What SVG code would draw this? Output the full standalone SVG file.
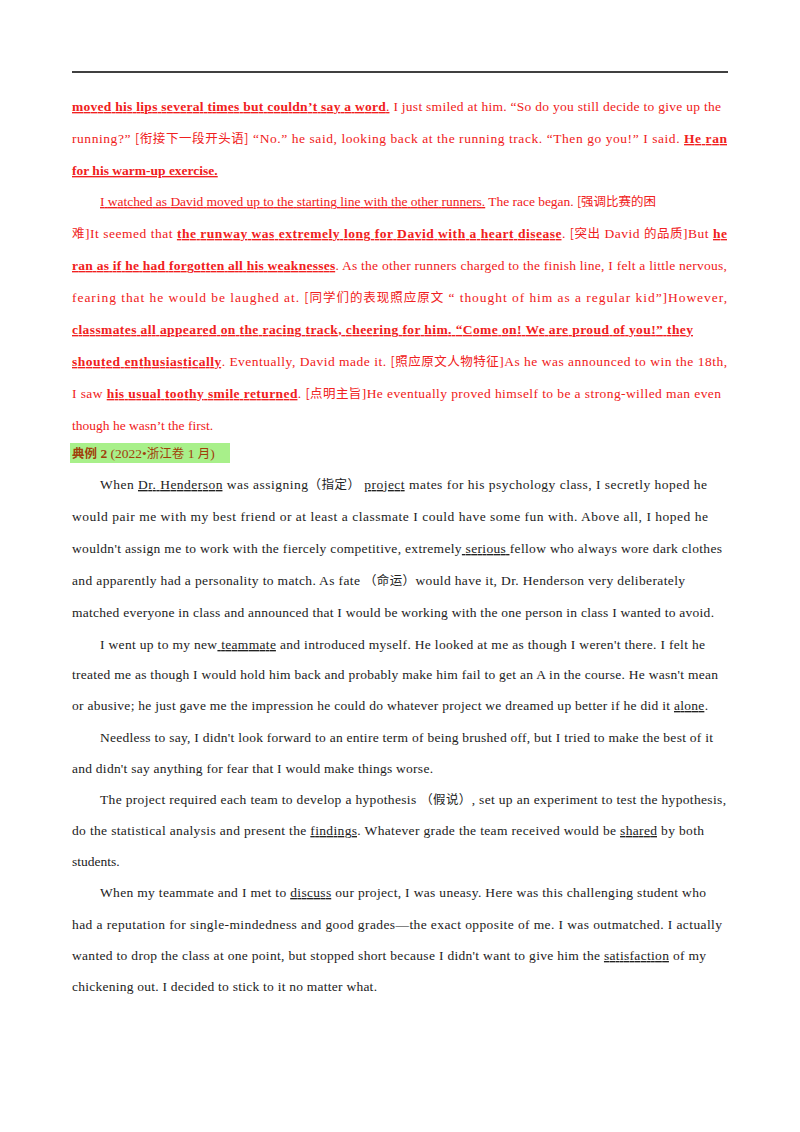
<svg xmlns="http://www.w3.org/2000/svg" width="800" height="1132" viewBox="0 0 800 1132">
<style>
text{font-family:"Liberation Serif","Noto Sans CJK SC",serif;font-size:13.5px;fill:#222}
.r{fill:#f02020}
.b{font-weight:bold}
.u{text-decoration:underline}
.cn{font-family:"Noto Sans CJK SC",sans-serif;font-size:12.5px}
</style>
<rect width="800" height="1132" fill="#fff"/>
<line x1="72" y1="72" x2="728" y2="72" stroke="#000" stroke-width="1.5"/>
<g class="r">
<text class="r" x="72" y="111" textLength="649" lengthAdjust="spacing"><tspan class="b u">moved his lips several times but couldn’t say a word</tspan><tspan class="u">.</tspan>  I just smiled at him. “So do you still decide to give up the</text>
<text class="r" x="72" y="143" textLength="655" lengthAdjust="spacing">running?”  <tspan class="cn">[衔接下一段开头语]</tspan>  “No.” he said, looking back at the running track. “Then go you!” I said.  <tspan class="b u">He ran </tspan></text>
<text class="r" x="72" y="175"><tspan class="b u">for his warm-up exercise.  </tspan></text>
<text class="r" x="100" y="206" textLength="556" lengthAdjust="spacing"><tspan class="u">I watched as David moved up to the starting line with the other runners.</tspan>  The race began.  <tspan class="cn">[强调比赛的困</tspan></text>
<text class="r" x="72" y="238" textLength="655" lengthAdjust="spacing"><tspan class="cn">难</tspan>]It seemed that  <tspan class="b u">the runway was extremely long for David with a heart disease</tspan>.  <tspan class="cn">[突出</tspan> David <tspan class="cn">的品质</tspan>]But  <tspan class="b u">he</tspan></text>
<text class="r" x="72" y="270" textLength="655" lengthAdjust="spacing"><tspan class="b u">ran as if he had forgotten all his weaknesses</tspan>. As the other runners charged to the finish line, I felt a little nervous,</text>
<text class="r" x="72" y="302" textLength="655" lengthAdjust="spacing">fearing that he would be laughed at.  <tspan class="cn">[同学们的表现照应原文</tspan> “ thought of him as a regular kid”]However,<tspan class="b u"> </tspan></text>
<text class="r" x="72" y="334" textLength="621" lengthAdjust="spacing"><tspan class="b u">classmates all appeared on the racing track, cheering for him. “Come on! We are proud of you!” they </tspan></text>
<text class="r" x="72" y="366" textLength="655" lengthAdjust="spacing"><tspan class="b u">shouted enthusiastically</tspan>. Eventually, David made it.  <tspan class="cn">[照应原文人物特征</tspan>]As he was announced to win the 18th,</text>
<text class="r" x="72" y="398" textLength="649" lengthAdjust="spacing">I saw  <tspan class="b u">his usual toothy smile returned</tspan>.  <tspan class="cn">[点明主旨</tspan>]He eventually proved himself to be a strong-willed man even</text>
<text class="r" x="72" y="430">though he wasn’t the first.</text>
</g>
<g id="heading">
<rect x="70" y="443" width="160" height="20" fill="#a8f08a"/>
<text x="72" y="458" style="fill:#a0400a"><tspan class="b cn" style="font-weight:bold">典例</tspan><tspan class="b"> 2</tspan>  (2022•<tspan class="cn">浙江卷</tspan> 1 <tspan class="cn">月</tspan>)</text>
</g>
<g id="body">
<text x="100" y="489" textLength="607" lengthAdjust="spacing">When  <tspan class="u">Dr. Henderson</tspan>  was assigning<tspan class="cn">（指定）</tspan>  <tspan class="u">project</tspan>  mates for his psychology class, I secretly hoped he</text>
<text x="72" y="521" textLength="636" lengthAdjust="spacing">would pair me with my best friend or at least a classmate I could have some fun with. Above all, I hoped he</text>
<text x="72" y="553" textLength="650" lengthAdjust="spacing">wouldn't assign me to work with the fiercely competitive, extremely<tspan class="u"> serious </tspan>fellow who always wore dark clothes</text>
<text x="72" y="585" textLength="613" lengthAdjust="spacing">and apparently had a personality to match. As fate  <tspan class="cn">（命运）</tspan>would have it, Dr. Henderson very deliberately</text>
<text x="72" y="617" textLength="642" lengthAdjust="spacing">matched everyone in class and announced that I would be working with the one person in class I wanted to avoid.</text>
<text x="100" y="649" textLength="605" lengthAdjust="spacing">I went up to my new<tspan class="u"> teammate</tspan>  and introduced myself. He looked at me as though I weren't there. I felt he</text>
<text x="72" y="679" textLength="646" lengthAdjust="spacing">treated me as though I would hold him back and probably make him fail to get an A in the course. He wasn't mean</text>
<text x="72" y="710" textLength="636" lengthAdjust="spacing">or abusive; he just gave me the impression he could do whatever project we dreamed up better if he did it  <tspan class="u">alone</tspan>.</text>
<text x="100" y="742" textLength="613" lengthAdjust="spacing">Needless to say, I didn't look forward to an entire term of being brushed off, but I tried to make the best of it</text>
<text x="72" y="773" textLength="361" lengthAdjust="spacing">and didn't say anything for fear that I would make things worse.</text>
<text x="100" y="804" textLength="626" lengthAdjust="spacing">The project required each team to develop a hypothesis  <tspan class="cn">（假说）</tspan>, set up an experiment to test the hypothesis,</text>
<text x="72" y="835" textLength="632" lengthAdjust="spacing">do the statistical analysis and present the  <tspan class="u">findings</tspan>. Whatever grade the team received would be  <tspan class="u">shared</tspan>  by both</text>
<text x="72" y="866">students.</text>
<text x="100" y="897" textLength="606" lengthAdjust="spacing">When my teammate and I met to  <tspan class="u">discuss</tspan>  our project, I was uneasy. Here was this challenging student who</text>
<text x="72" y="929" textLength="650" lengthAdjust="spacing">had a reputation for single-mindedness and good grades—the exact opposite of me. I was outmatched. I actually</text>
<text x="72" y="960" textLength="634" lengthAdjust="spacing">wanted to drop the class at one point, but stopped short because I didn't want to give him the  <tspan class="u">satisfaction</tspan>  of my</text>
<text x="72" y="991" textLength="305" lengthAdjust="spacing">chickening out. I decided to stick to it no matter what.</text>
</g>
</svg>
